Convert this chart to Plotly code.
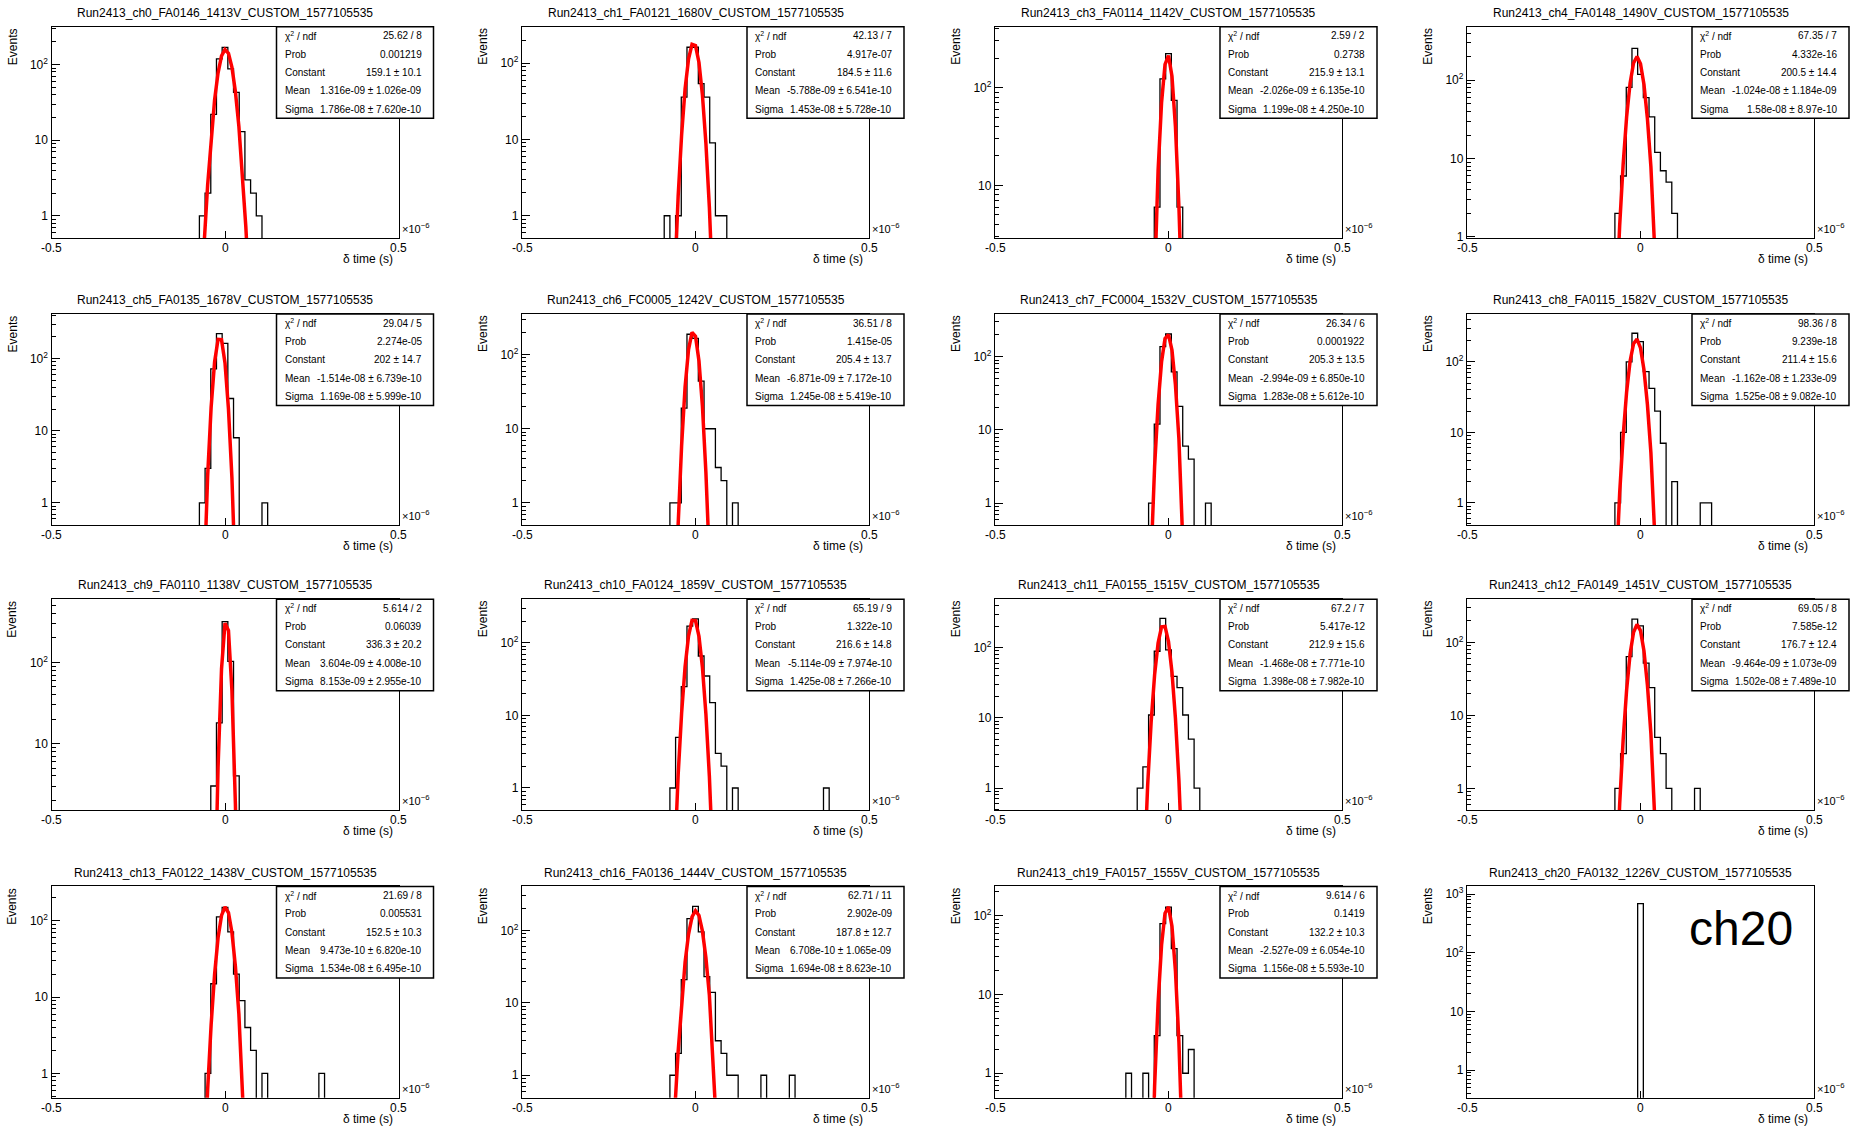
import numpy as np
import plotly.graph_objects as go

# ---------------------------------------------------------------- data
titles = [
    "Run2413_ch0_FA0146_1413V_CUSTOM_1577105535",
    "Run2413_ch1_FA0121_1680V_CUSTOM_1577105535",
    "Run2413_ch3_FA0114_1142V_CUSTOM_1577105535",
    "Run2413_ch4_FA0148_1490V_CUSTOM_1577105535",
    "Run2413_ch5_FA0135_1678V_CUSTOM_1577105535",
    "Run2413_ch6_FC0005_1242V_CUSTOM_1577105535",
    "Run2413_ch7_FC0004_1532V_CUSTOM_1577105535",
    "Run2413_ch8_FA0115_1582V_CUSTOM_1577105535",
    "Run2413_ch9_FA0110_1138V_CUSTOM_1577105535",
    "Run2413_ch10_FA0124_1859V_CUSTOM_1577105535",
    "Run2413_ch11_FA0155_1515V_CUSTOM_1577105535",
    "Run2413_ch12_FA0149_1451V_CUSTOM_1577105535",
    "Run2413_ch13_FA0122_1438V_CUSTOM_1577105535",
    "Run2413_ch16_FA0136_1444V_CUSTOM_1577105535",
    "Run2413_ch19_FA0157_1555V_CUSTOM_1577105535",
    "Run2413_ch20_FA0132_1226V_CUSTOM_1577105535",
]

# histogram: 61 bins over [-0.5, 0.5] us, bin index -30..30 (0 = central bin)
N_BINS = 61
X_LO, X_HI = -0.5e-6, 0.5e-6

first_bin = [-4, -5, -2, -4, -4, -4, -3, -4, -2, -4, -5, -4, -3, -4, -7, 0]
counts = [
    [1, 2, 22, 119, 169, 88, 43, 13, 3, 2, 1],
    [1, 0, 1, 36, 162, 162, 54, 36, 9, 1, 1],
    [6, 123, 223, 74, 6],
    [2, 6, 81, 255, 119, 60, 34, 12, 7, 5, 2],
    [1, 3, 72, 222, 163, 28, 8, 0, 0, 0, 0, 1],
    [1, 1, 19, 188, 165, 44, 10, 10, 3, 2, 0, 1],
    [1, 12, 137, 204, 62, 21, 6, 4, 0, 0, 1],
    [1, 10, 100, 255, 194, 73, 42, 20, 7, 0, 2, 0, 0, 0, 0, 1, 1],
    [3, 18, 318, 103, 4],
    [1, 5, 25, 170, 214, 66, 35, 15, 3, 2, 0, 1,
     0, 0, 0, 0, 0, 0, 0, 0, 0, 0, 0, 0, 0, 0, 0, 1],
    [1, 2, 11, 89, 262, 93, 39, 27, 11, 5, 1],
    [1, 3, 64, 208, 169, 52, 24, 5, 3, 1, 0, 0, 0, 0, 1],
    [1, 15, 113, 151, 72, 20, 9, 4, 2, 0, 1, 0, 0, 0, 0, 0, 0, 0, 0, 0, 1],
    [1, 2, 21, 146, 216, 96, 23, 14, 3, 2, 1, 1, 0, 0, 0, 0, 1, 0, 0, 0, 0, 1],
    [1, 0, 0, 1, 0, 3, 79, 128, 38, 3, 1, 2],
    [690],
]

# y-axis (Events, log) ranges
y_lo = [0.51, 0.51, 2.9, 0.97, 0.49, 0.5, 0.5, 0.48, 1.5, 0.49, 0.48, 0.5, 0.48, 0.49, 0.49, 0.34]
y_hi = [316, 300, 418, 480, 415, 352, 382, 478, 600, 400, 490, 390, 283, 406, 234, 1350]

# Gaussian fit results (None = no fit)
fit_chi2 = ["25.62 / 8", "42.13 / 7", "2.59 / 2", "67.35 / 7", "29.04 / 5", "36.51 / 8",
            "26.34 / 6", "98.36 / 8", "5.614 / 2", "65.19 / 9", "67.2 / 7", "69.05 / 8",
            "21.69 / 8", "62.71 / 11", "9.614 / 6", None]
fit_prob = ["0.001219", "4.917e-07", "0.2738", "4.332e-16", "2.274e-05", "1.415e-05",
            "0.0001922", "9.239e-18", "0.06039", "1.322e-10", "5.417e-12", "7.585e-12",
            "0.005531", "2.902e-09", "0.1419", None]
fit_const = ["159.1", "184.5", "215.9", "200.5", "202", "205.4", "205.3", "211.4",
             "336.3", "216.6", "212.9", "176.7", "152.5", "187.8", "132.2", None]
fit_const_err = ["10.1", "11.6", "13.1", "14.4", "14.7", "13.7", "13.5", "15.6",
                 "20.2", "14.8", "15.6", "12.4", "10.3", "12.7", "10.3", None]
fit_mean = ["1.316e-09", "-5.788e-09", "-2.026e-09", "-1.024e-08", "-1.514e-08", "-6.871e-09",
            "-2.994e-09", "-1.162e-08", "3.604e-09", "-5.114e-09", "-1.468e-08", "-9.464e-09",
            "9.473e-10", "6.708e-10", "-2.527e-09", None]
fit_mean_err = ["1.026e-09", "6.541e-10", "6.135e-10", "1.184e-09", "6.739e-10", "7.172e-10",
                "6.850e-10", "1.233e-09", "4.008e-10", "7.974e-10", "7.771e-10", "1.073e-09",
                "6.820e-10", "1.065e-09", "6.054e-10", None]
fit_sigma = ["1.786e-08", "1.453e-08", "1.199e-08", "1.58e-08", "1.169e-08", "1.245e-08",
             "1.283e-08", "1.525e-08", "8.153e-09", "1.425e-08", "1.398e-08", "1.502e-08",
             "1.534e-08", "1.694e-08", "1.156e-08", None]
fit_sigma_err = ["7.620e-10", "5.728e-10", "4.250e-10", "8.97e-10", "5.999e-10", "5.419e-10",
                 "5.612e-10", "9.082e-10", "2.955e-10", "7.266e-10", "7.982e-10", "7.489e-10",
                 "6.495e-10", "8.623e-10", "5.593e-10", None]

x_ticks = [-0.5, 0.0, 0.5]
x_tick_text = ["-0.5", "0", "0.5"]
y_major = [1, 10, 100, 1000]
y_major_text = ["1", "10", "10<sup>2</sup>", "10<sup>3</sup>"]
big_label = {15: "ch20"}

# ---------------------------------------------------------------- layout
W, H = 1856, 1131
FONT = "Liberation Sans, Arial, Helvetica, sans-serif"
FRAME_LEFT = [51.5, 522.0, 995.0, 1467.0]
FRAME_TOP = [26.0, 315.0, 602.0, 891.0]
FRAME_W, FRAME_H = 347.0, 212.5
US = 1e6  # axis shown in units of 1e-6 s


def px(x):
    return x / W


def py(y):
    return 1.0 - y / H


def label(text, x, y, size, xanchor="center", yanchor="middle", angle=0):
    return dict(text=text, x=px(x), y=py(y), xref="paper", yref="paper",
                xanchor=xanchor, yanchor=yanchor, textangle=angle,
                showarrow=False, font=dict(size=size))


fig = go.Figure()
annotations, shapes = [], []
layout = dict(
    width=W, height=H, autosize=False,
    margin=dict(l=0, r=0, t=0, b=0),
    paper_bgcolor="white", plot_bgcolor="white",
    showlegend=False,
    font=dict(family=FONT, color="black", size=12),
)

edges = np.linspace(X_LO, X_HI, N_BINS + 1)

for i in range(16):
    r, c = divmod(i, 4)
    fl, ft = FRAME_LEFT[c], FRAME_TOP[r]
    fr, fb = fl + FRAME_W, ft + FRAME_H
    sfx = "" if i == 0 else str(i + 1)
    xref, yref = "x" + sfx, "y" + sfx

    # histogram outline
    h = np.zeros(N_BINS)
    start = first_bin[i] + N_BINS // 2
    h[start:start + len(counts[i])] = counts[i]
    floor = y_lo[i] * 1e-3
    hy = np.where(h > 0, h, floor)
    fig.add_trace(go.Scatter(
        x=edges * US, y=np.append(hy, hy[-1]),
        mode="lines", line=dict(color="black", width=1.3, shape="hv"),
        xaxis=xref, yaxis=yref, hoverinfo="skip",
    ))

    # gaussian fit curve (100 segments across the axis range)
    if fit_const[i] is not None:
        C, mu, sg = float(fit_const[i]), float(fit_mean[i]), float(fit_sigma[i])
        xs = np.linspace(X_LO, X_HI, 101)
        ys = C * np.exp(-0.5 * ((xs - mu) / sg) ** 2)
        keep = ys > y_lo[i] * 1e-3
        fig.add_trace(go.Scatter(
            x=xs[keep] * US, y=ys[keep], mode="lines",
            line=dict(color="#ff0000", width=3.5),
            xaxis=xref, yaxis=yref, hoverinfo="skip",
        ))

    lo, hi = y_lo[i], y_hi[i]
    majors = [v for v in y_major if lo <= v <= hi]
    minors = [m * 10.0 ** d for d in range(-1, 4) for m in range(2, 10)
              if lo <= m * 10.0 ** d <= hi]

    layout["xaxis" + sfx] = dict(
        domain=[px(fl), px(fr)], anchor=yref, range=[X_LO * US, X_HI * US],
        tickmode="array", tickvals=x_ticks, showticklabels=False,
        ticks="inside", ticklen=7, tickwidth=1, tickcolor="black",
        showline=True, linecolor="black", linewidth=1.3, mirror=True,
        showgrid=False, zeroline=False,
    )
    layout["yaxis" + sfx] = dict(
        domain=[py(fb), py(ft)], anchor=xref, type="log",
        range=[np.log10(lo), np.log10(hi)],
        tickmode="array", tickvals=majors,
        ticktext=[y_major_text[y_major.index(v)] for v in majors],
        ticks="inside", ticklen=8, tickwidth=1, tickcolor="black",
        minor=dict(tickmode="array", tickvals=minors, ticks="inside",
                   ticklen=4, tickwidth=1, tickcolor="black"),
        showline=True, linecolor="black", linewidth=1.3, mirror=True,
        showgrid=False, zeroline=False, tickfont=dict(size=12),
    )

    # x tick labels, placed on the axis scale
    for v, t in zip(x_ticks, x_tick_text):
        xpix = fl + (v - X_LO * US) / ((X_HI - X_LO) * US) * FRAME_W
        annotations.append(label(t, xpix, fb + 10, 12))

    # title and axis titles
    annotations.append(label(titles[i], (fl + fr) / 2, ft - 14, 12))
    annotations.append(label("Events", fl - 39, ft + 20, 12, angle=-90))
    annotations.append(label("\u03b4 time (s)", fr - 4, fb + 21, 12, xanchor="right"))
    annotations.append(label("\u00d710<sup>\u22126</sup>", fr + 1, fb - 1, 11,
                             xanchor="left", yanchor="bottom"))

    # statistics box
    if fit_const[i] is not None:
        bx0, bx1 = fl + 225, fr + 35
        by0, by1 = ft, ft + 92
        shapes.append(dict(
            type="rect", xref="paper", yref="paper",
            x0=px(bx0), x1=px(bx1), y0=py(by1), y1=py(by0),
            line=dict(color="black", width=1.5), fillcolor="white", layer="above",
        ))
        rows = [
            ("\u03c7<sup>2</sup> / ndf", fit_chi2[i]),
            ("Prob", fit_prob[i]),
            ("Constant", f"{fit_const[i]} \u00b1 {fit_const_err[i]}"),
            ("Mean", f"{fit_mean[i]} \u00b1 {fit_mean_err[i]}"),
            ("Sigma", f"{fit_sigma[i]} \u00b1 {fit_sigma_err[i]}"),
        ]
        step = (by1 - by0) / len(rows)
        for k, (lab, val) in enumerate(rows):
            yc = by0 + step * (k + 0.5)
            annotations.append(label(lab, bx0 + 6, yc, 10, xanchor="left"))
            annotations.append(label(val, bx1 - 10, yc, 10, xanchor="right"))

    if i in big_label:
        annotations.append(label(big_label[i], fr - 73, ft + 42, 48))

layout["annotations"] = annotations
layout["shapes"] = shapes
fig.update_layout(**layout)
fig.write_html("out.html")
